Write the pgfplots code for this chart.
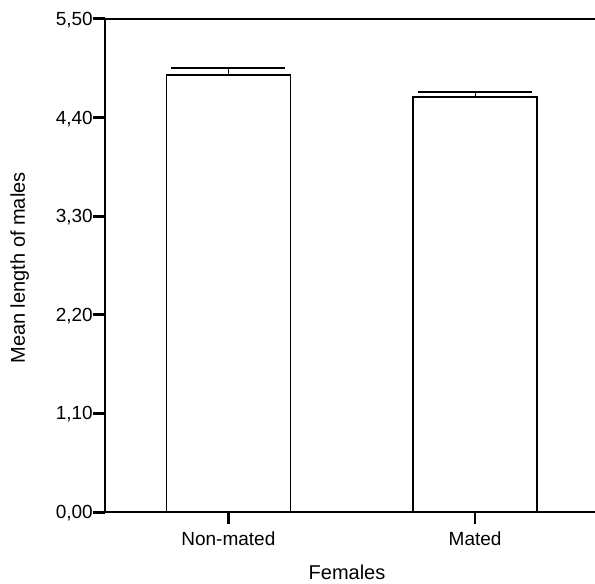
\documentclass[border=0pt]{standalone}
\usepackage{pgfplots}
\pgfplotsset{compat=1.18}
\usepackage{fontspec}
\setmainfont{Liberation Sans}
\begin{document}
\begin{tikzpicture}
\begin{axis}[
  at={(0pt,0pt)}, anchor=south west,
  scale only axis, width=490pt, height=493pt,
  xmin=-0.5, xmax=1.486, ymin=0, ymax=5.5,
  axis x line*=bottom, axis y line*=left,
  axis line style={line width=2pt, black},
  clip=false,
  xtick={0,1}, xticklabels={Non-mated,Mated},
  ytick={0,1.1,2.2,3.3,4.4,5.5},
  /pgf/number format/assume math mode=true,
  yticklabel style={/pgf/number format/fixed, /pgf/number format/fixed zerofill, /pgf/number format/precision=2, /pgf/number format/use comma},
  tick align=outside, major tick length=12pt,
  xtick style={line width=2.5pt, black},
  ytick style={line width=3pt, black},
  ticklabel style={font=\fontsize{19}{21}\selectfont},
  yticklabel style={anchor=east, inner sep=0pt, yshift=-1pt},
  xticklabel style={anchor=north, inner sep=0pt, yshift=-8pt},
  xlabel={Females}, ylabel={Mean length of males},
  every axis x label/.style={at={(axis description cs:0.4939,-0.137)}, anchor=base, font=\fontsize{20}{22}\selectfont},
  every axis y label/.style={at={(axis description cs:-0.1633,0.495)}, anchor=base, rotate=90, font=\fontsize{20}{22}\selectfont},
]
\addplot[ybar, bar width=124pt, fill=white, draw=black, line width=1.5pt,
  error bars/.cd, y dir=plus, y explicit,
  error bar style={line width=1pt, black},
  error mark options={rotate=90, mark size=57pt, line width=2pt, black}]
  coordinates {(0,4.877) +- (0,0.075) (1,4.628) +- (0,0.052)};
\draw[line width=2pt] (rel axis cs:0,1) -- (rel axis cs:1,1);
\end{axis}
\pgfresetboundingbox
\path (-105pt,-72pt) rectangle (490pt,512pt);
\end{tikzpicture}
\end{document}
